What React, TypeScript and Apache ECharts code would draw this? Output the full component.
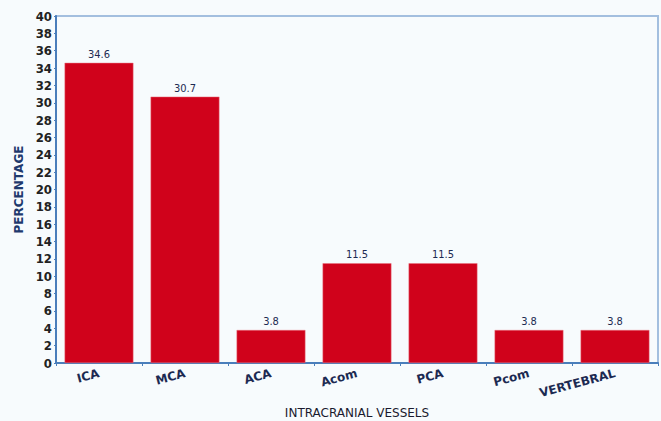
import React, { useEffect, useRef } from "react";
import * as echarts from "echarts";

const categories = ["ICA", "MCA", "ACA", "Acom", "PCA", "Pcom", "VERTEBRAL"];
const values = [34.6, 30.7, 3.8, 11.5, 11.5, 3.8, 3.8];
const yMin = 0;
const yMax = 40;
const yInterval = 2;

export default function App() {
  const ref = useRef<HTMLDivElement>(null);
  useEffect(() => {
    document.body.style.margin = "0";
    const chart = echarts.init(ref.current!, null, { renderer: "svg" });
    chart.setOption({
      animation: false,
      backgroundColor: "#f7fbfd",
      grid: {
        left: 56,
        top: 16,
        right: 3,
        bottom: 58,
        outerBoundsMode: "none",
        containLabel: false,
        show: true,
        borderColor: "#a3bfdf",
        borderWidth: 2,
        backgroundColor: "#f7fbfd",
      },
      xAxis: {
        type: "category",
        data: categories,
        name: "INTRACRANIAL VESSELS",
        nameLocation: "middle",
        nameGap: 44,
        nameTextStyle: { color: "#1a1a2e", fontSize: 12, fontFamily: "DejaVu Sans" },
        axisLine: { lineStyle: { color: "#4a7ebb", width: 2 } },
        axisTick: { show: true, length: 3, lineStyle: { color: "#4a7ebb" } },
        axisLabel: {
          rotate: 15,
          margin: 10,
          color: "#1c2a52",
          fontSize: 12,
          fontWeight: "bold",
          fontFamily: "DejaVu Sans",
          interval: 0,
        },
      },
      yAxis: {
        type: "value",
        min: yMin,
        max: yMax,
        interval: yInterval,
        name: "PERCENTAGE",
        nameLocation: "middle",
        nameGap: 30,
        nameTextStyle: { color: "#1f3a6e", fontSize: 12, fontWeight: "bold", fontFamily: "DejaVu Sans" },
        axisLine: { show: true, lineStyle: { color: "#4a7ebb", width: 2 } },
        axisTick: { show: true, length: 2, lineStyle: { color: "#4a7ebb" } },
        splitLine: { show: false },
        axisLabel: {
          color: "#222222",
          fontSize: 13,
          fontWeight: "bold",
          fontFamily: "DejaVu Sans Condensed",
          margin: 4,
        },
      },
      series: [
        {
          type: "bar",
          data: values,
          barCategoryGap: "20%",
          itemStyle: { color: "#d0021b", borderColor: "#e8707c", borderWidth: 0.5 },
          label: {
            show: true,
            position: "top",
            distance: 3,
            color: "#1c2a52",
            fontSize: 11,
            fontFamily: "DejaVu Sans Condensed",
          },
        },
      ],
    });
    return () => chart.dispose();
  }, []);
  return <div ref={ref} style={{ width: 661, height: 421 }} />;
}
